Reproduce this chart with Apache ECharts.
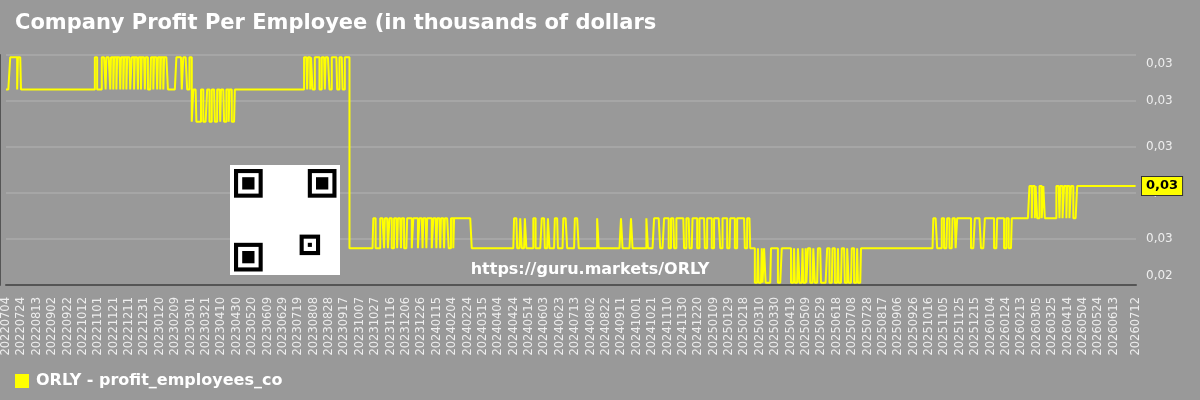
<!DOCTYPE html>
<html>
<head>
<meta charset="utf-8">
<script src="https://cdn.jsdelivr.net/npm/echarts@6/dist/echarts.min.js"></script>
<style>
  html, body { margin: 0; padding: 0; background: #999999; }
  #main { width: 1200px; height: 400px; }
</style>
</head>
<body>
<div id="main"></div>
<script>
// levels (value axis 0.024 .. 0.034)
const levels = { A: 0.0339, B: 0.0325, C: 0.0311, D: 0.0269, E: 0.0256, F: 0.0241, G: 0.0283 };

// base level runs: [first day index, level]
const baseRuns = [[0, "B"], [242, "C"], [298, "B"], [447, "E"], [1206, "D"], [1393, "G"]];

// short excursions away from the base: [from day, to day, level]
const spikes = [
  [6, 14, "A"], [16, 19, "A"], [116, 118, "A"], [125, 129, "A"], [131, 135, "A"], [137, 139, "A"],
  [141, 143, "A"], [145, 148, "A"], [150, 152, "A"], [154, 156, "A"], [158, 161, "A"], [164, 166, "A"],
  [168, 171, "A"], [173, 175, "A"], [177, 180, "A"], [182, 184, "A"], [189, 191, "A"], [193, 196, "A"],
  [198, 200, "A"], [202, 204, "A"], [206, 210, "A"], [222, 228, "A"], [231, 235, "A"], [239, 241, "A"],
  [244, 247, "B"], [254, 256, "B"], [262, 264, "B"], [268, 271, "B"], [275, 278, "B"], [280, 283, "B"],
  [287, 289, "B"], [291, 293, "B"],
  [388, 391, "A"], [393, 395, "A"], [397, 398, "A"], [402, 407, "A"], [411, 414, "A"], [416, 420, "A"],
  [424, 430, "A"], [434, 437, "A"], [441, 446, "A"],
  [478, 480, "D"], [487, 491, "D"], [493, 496, "D"], [499, 501, "D"], [505, 508, "D"], [510, 513, "D"],
  [515, 517, "D"], [522, 527, "D"], [530, 535, "D"], [538, 541, "D"], [543, 546, "D"], [548, 553, "D"],
  [556, 559, "D"], [561, 564, "D"], [566, 569, "D"], [571, 575, "D"], [579, 581, "D"], [583, 605, "D"],
  [661, 664, "D"], [669, 670, "D"], [675, 676, "D"], [686, 688, "D"], [697, 700, "D"], [705, 706, "D"],
  [714, 717, "D"], [725, 729, "D"], [740, 744, "D"], [769, 770, "D"], [800, 801, "D"], [813, 814, "D"],
  [833, 834, "D"], [843, 850, "D"], [856, 861, "D"], [865, 868, "D"], [872, 881, "D"], [885, 888, "D"],
  [893, 898, "D"], [902, 908, "D"], [912, 917, "D"], [921, 928, "D"], [932, 937, "D"], [942, 947, "D"],
  [951, 960, "D"], [964, 967, "D"],
  [974, 977, "F"], [979, 982, "F"], [984, 985, "F"], [988, 994, "F"], [1004, 1008, "F"], [1021, 1024, "F"],
  [1026, 1029, "F"], [1032, 1035, "F"], [1037, 1039, "F"], [1041, 1042, "F"], [1046, 1049, "F"],
  [1052, 1055, "F"], [1060, 1067, "F"], [1071, 1074, "F"], [1078, 1081, "F"], [1083, 1086, "F"],
  [1091, 1093, "F"], [1096, 1099, "F"], [1103, 1106, "F"], [1108, 1111, "F"],
  [1211, 1216, "E"], [1220, 1223, "E"], [1227, 1230, "E"], [1235, 1236, "E"], [1255, 1259, "E"],
  [1268, 1272, "E"], [1285, 1288, "E"], [1298, 1300, "E"], [1304, 1307, "E"],
  [1331, 1333, "G"], [1335, 1337, "G"], [1339, 1340, "G"], [1344, 1346, "G"], [1349, 1350, "G"],
  [1366, 1369, "G"], [1371, 1373, "G"], [1376, 1378, "G"], [1380, 1382, "G"], [1385, 1387, "G"]
];

const startDate = "2022-07-04";
const dayCount = 1470;

// daily categories YYYYMMDD
const dates = [];
const d0 = new Date(startDate + "T00:00:00Z");
for (let i = 0; i < dayCount; i++) {
  const d = new Date(d0.getTime() + i * 86400000);
  const s = d.getUTCFullYear() + String(d.getUTCMonth() + 1).padStart(2, "0") + String(d.getUTCDate()).padStart(2, "0");
  dates.push(s);
}

const values = [];
for (let i = 0; i < dayCount; i++) {
  let lv = baseRuns[0][1];
  for (const r of baseRuns) if (i >= r[0]) lv = r[1];
  for (const s of spikes) if (i >= s[0] && i <= s[1]) lv = s[2];
  values.push(levels[lv]);
}

const fmt = (v) => v.toFixed(2).replace(".", ",");

// rough QR-like mark (finder patterns only)
const qrX = 230, qrY = 165, qrSize = 110, mod = 4.1;
const qr = [{ type: "rect", z: 100, shape: { x: qrX, y: qrY, width: qrSize, height: qrSize }, style: { fill: "#fff" } }];
const box = (mx, my, w, fill) => {
  qr.push({ type: "rect", z: 101, shape: { x: qrX + 4 + mx * mod, y: qrY + 4 + my * mod, width: w * mod, height: w * mod }, style: { fill: fill } });
};
const finder = (mx, my) => {
  box(mx, my, 7, "#000");
  box(mx + 1, my + 1, 5, "#fff");
  box(mx + 2, my + 2, 3, "#000");
};
finder(0, 0); finder(18, 0); finder(0, 18);
box(16, 16, 5, "#000"); box(17, 17, 3, "#fff"); box(18, 18, 1, "#000");

const myChart = echarts.init(document.getElementById("main"));

const option = {
  backgroundColor: "#999999",
  animation: false,
  title: {
    text: "Company Profit Per Employee (in thousands of dollars",
    left: 10,
    top: 8,
    textStyle: { color: "#fff", fontSize: 21, fontWeight: "bold", fontFamily: "DejaVu Sans" }
  },
  legend: {
    left: 10,
    top: 368,
    icon: "rect",
    itemWidth: 14,
    itemHeight: 14,
    itemGap: 6,
    textStyle: { color: "#fff", fontSize: 16, fontWeight: "bold", fontFamily: "DejaVu Sans", padding: [0, 0, 0, 2] },
    data: ["ORLY - profit_employees_co"]
  },
  grid: { left: 6, right: 64, top: 55, bottom: 115 },
  xAxis: {
    type: "category",
    data: dates,
    boundaryGap: false,
    axisLine: { show: true, lineStyle: { color: "#555", width: 2 } },
    axisTick: { show: false },
    axisLabel: {
      rotate: 90,
      color: "#eee",
      fontSize: 11.5,
      fontFamily: "DejaVu Sans",
      margin: 12,
      hideOverlap: false,
      interval: (idx) => (idx % 20 === 0 && idx < dayCount - 15) || idx === dayCount - 1
    },
    splitLine: { show: false }
  },
  yAxis: [
    {
      type: "value",
      position: "right",
      min: 0.024,
      max: 0.034,
      interval: 0.002,
      axisLine: { show: false },
      axisTick: { show: false },
      splitLine: { show: true, lineStyle: { color: "#a6a6a6", width: 2 } },
      axisLabel: {
        color: "#eee",
        fontSize: 12,
        fontFamily: "DejaVu Sans",
        margin: 10,
        formatter: (v) => {
          if (Math.abs(v - 0.034) < 1e-6) return "{t|" + fmt(v) + "}";
          if (Math.abs(v - 0.024) < 1e-6) return "{b|" + fmt(v) + "}";
          return fmt(v);
        },
        rich: {
          t: { padding: [18, 0, 0, 0], color: "#eee", fontSize: 12, fontFamily: "DejaVu Sans" },
          b: { padding: [0, 0, 18, 0], color: "#eee", fontSize: 12, fontFamily: "DejaVu Sans" }
        }
      }
    },
    {
      type: "value",
      position: "left",
      offset: 6,
      min: 0.024,
      max: 0.034,
      interval: 0.002,
      axisLine: { show: true, lineStyle: { color: "#555", width: 2 } },
      axisTick: { show: false },
      axisLabel: { show: false },
      splitLine: { show: false }
    }
  ],
  series: [
    {
      name: "ORLY - profit_employees_co",
      type: "line",
      step: "middle",
      data: values,
      showSymbol: false,
      symbol: "none",
      color: "#ffff00",
      lineStyle: { color: "#ffff00", width: 2 },
      endLabel: {
        show: true,
        distance: 6,
        formatter: (p) => fmt(p.value),
        backgroundColor: "#ffff00",
        borderColor: "#333",
        borderWidth: 1,
        padding: [3, 4, 2, 4],
        color: "#000",
        fontSize: 13,
        fontWeight: "bold",
        fontFamily: "DejaVu Sans"
      }
    }
  ],
  graphic: [
    ...qr,
    {
      type: "text",
      z: 100,
      x: 590,
      y: 270,
      style: {
        text: "https://guru.markets/ORLY",
        fill: "#fff",
        font: "bold 16px 'DejaVu Sans'",
        textAlign: "center",
        textVerticalAlign: "middle"
      }
    }
  ]
};

option && myChart.setOption(option);
</script>
</body>
</html>
